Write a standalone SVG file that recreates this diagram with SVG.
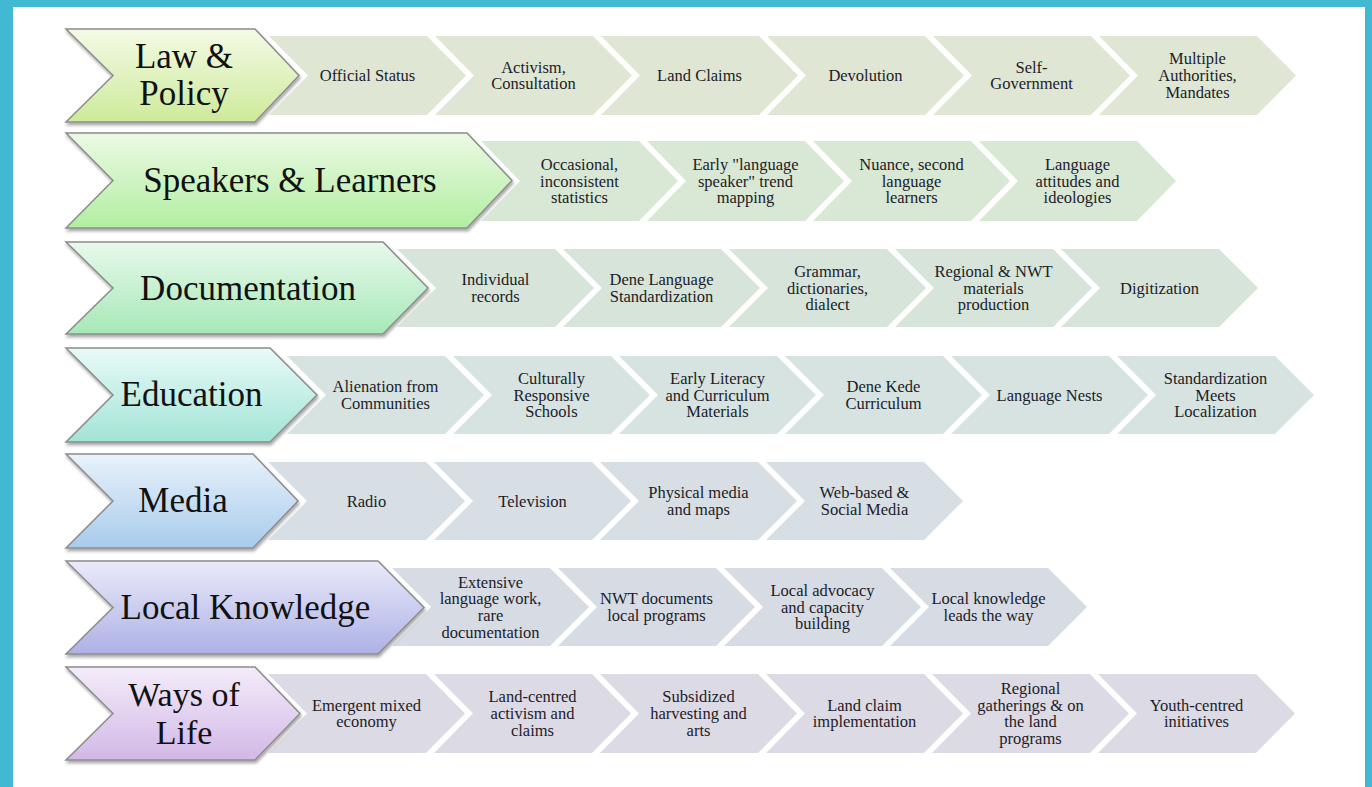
<svg xmlns="http://www.w3.org/2000/svg" width="1372" height="787" viewBox="0 0 1372 787">
<defs>
<style>
.r1{fill:#dfe6d3}.r2{fill:#d9e7d5}.r3{fill:#d6e4da}.r4{fill:#d6e3e1}.r5{fill:#d7dee4}.r6{fill:#d7dbe4}.r7{fill:#dcdae4}
.h{stroke:#8c8c8c;stroke-width:1.5;filter:url(#sh)}
.t{font-family:"Liberation Serif","Times New Roman",serif;font-size:16.5px;fill:#1c1c28;text-anchor:middle}
.ht{font-family:"Liberation Serif","Times New Roman",serif;font-size:35px;fill:#111;text-anchor:middle}
.ht2{font-size:34px}
</style>
<filter id="sh" x="-10%" y="-10%" width="120%" height="130%">
<feDropShadow dx="1" dy="2.5" stdDeviation="1.5" flood-color="#000" flood-opacity="0.35"/>
</filter>
<linearGradient id="g1" x1="0" y1="0" x2="0" y2="1"><stop offset="0" stop-color="#f4fae6"/><stop offset="1" stop-color="#cdea9a"/></linearGradient>
<linearGradient id="g2" x1="0" y1="0" x2="0" y2="1"><stop offset="0" stop-color="#ecf9e4"/><stop offset="1" stop-color="#b2eea2"/></linearGradient>
<linearGradient id="g3" x1="0" y1="0" x2="0" y2="1"><stop offset="0" stop-color="#e8f9ec"/><stop offset="1" stop-color="#a6e8b6"/></linearGradient>
<linearGradient id="g4" x1="0" y1="0" x2="0" y2="1"><stop offset="0" stop-color="#e8faf8"/><stop offset="1" stop-color="#a2e4d6"/></linearGradient>
<linearGradient id="g5" x1="0" y1="0" x2="0" y2="1"><stop offset="0" stop-color="#e8f2fb"/><stop offset="1" stop-color="#a9cbec"/></linearGradient>
<linearGradient id="g6" x1="0" y1="0" x2="0" y2="1"><stop offset="0" stop-color="#eaeaf9"/><stop offset="1" stop-color="#adb1e6"/></linearGradient>
<linearGradient id="g7" x1="0" y1="0" x2="0" y2="1"><stop offset="0" stop-color="#f4ecfa"/><stop offset="1" stop-color="#d2b8e6"/></linearGradient>
</defs>
<rect width="1372" height="787" fill="#ffffff"/>
<g id="frame" fill="#42b9d3">
<rect x="0" y="0" width="13" height="787"/>
<rect x="0" y="0" width="1372" height="7"/>
<rect x="1365" y="0" width="7" height="787"/>
</g>

<!-- Row 1 -->
<g id="row1-steps">
<g id="n1-1"><polygon class="r1" points="269,36 427,36 466,75.5 427,115 269,115 308,75.5"/><text class="t" x="367.5" y="81">Official Status</text></g>
<g id="n1-2"><polygon class="r1" points="435,36 593,36 632,75.5 593,115 435,115 474,75.5"/><text class="t"><tspan x="533.5" y="72.7">Activism,</tspan><tspan x="533.5" y="89.4">Consultation</tspan></text></g>
<g id="n1-3"><polygon class="r1" points="601,36 759,36 798,75.5 759,115 601,115 640,75.5"/><text class="t" x="699.5" y="81">Land Claims</text></g>
<g id="n1-4"><polygon class="r1" points="767,36 925,36 964,75.5 925,115 767,115 806,75.5"/><text class="t" x="865.5" y="81">Devolution</text></g>
<g id="n1-5"><polygon class="r1" points="933,36 1091,36 1130,75.5 1091,115 933,115 972,75.5"/><text class="t"><tspan x="1031.5" y="72.7">Self-</tspan><tspan x="1031.5" y="89.4">Government</tspan></text></g>
<g id="n1-6"><polygon class="r1" points="1099,36 1257,36 1296,75.5 1257,115 1099,115 1138,75.5"/><text class="t"><tspan x="1197.5" y="64.3">Multiple</tspan><tspan x="1197.5" y="81">Authorities,</tspan><tspan x="1197.5" y="97.7">Mandates</tspan></text></g>
</g>
<g id="h1-law-policy"><polygon class="h" fill="url(#g1)" points="66,29 255,29 299,75.5 255,122 66,122 113,75.5"/><text class="ht"><tspan x="184" y="68">Law &amp;</tspan><tspan x="184" y="105">Policy</tspan></text></g>

<!-- Row 2 -->
<g id="row2-steps">
<g id="n2-1"><polygon class="r2" points="481,141 639,141 678,181 639,221 481,221 520,181"/><text class="t"><tspan x="579.5" y="169.8">Occasional,</tspan><tspan x="579.5" y="186.5">inconsistent</tspan><tspan x="579.5" y="203.2">statistics</tspan></text></g>
<g id="n2-2"><polygon class="r2" points="647,141 805,141 844,181 805,221 647,221 686,181"/><text class="t"><tspan x="745.5" y="169.8">Early "language</tspan><tspan x="745.5" y="186.5">speaker" trend</tspan><tspan x="745.5" y="203.2">mapping</tspan></text></g>
<g id="n2-3"><polygon class="r2" points="813,141 971,141 1010,181 971,221 813,221 852,181"/><text class="t"><tspan x="911.5" y="169.8">Nuance, second</tspan><tspan x="911.5" y="186.5">language</tspan><tspan x="911.5" y="203.2">learners</tspan></text></g>
<g id="n2-4"><polygon class="r2" points="979,141 1137,141 1176,181 1137,221 979,221 1018,181"/><text class="t"><tspan x="1077.5" y="169.8">Language</tspan><tspan x="1077.5" y="186.5">attitudes and</tspan><tspan x="1077.5" y="203.2">ideologies</tspan></text></g>
</g>
<g id="h2-speakers-learners"><polygon class="h" fill="url(#g2)" points="66,133 467,133 512,180.5 467,228 66,228 113,180.5"/><text class="ht" x="290" y="192">Speakers &amp; Learners</text></g>

<!-- Row 3 -->
<g id="row3-steps">
<g id="n3-1"><polygon class="r3" points="397,249 555,249 594,288 555,327 397,327 436,288"/><text class="t"><tspan x="495.5" y="285.2">Individual</tspan><tspan x="495.5" y="301.9">records</tspan></text></g>
<g id="n3-2"><polygon class="r3" points="563,249 721,249 760,288 721,327 563,327 602,288"/><text class="t"><tspan x="661.5" y="285.2">Dene Language</tspan><tspan x="661.5" y="301.9">Standardization</tspan></text></g>
<g id="n3-3"><polygon class="r3" points="729,249 887,249 926,288 887,327 729,327 768,288"/><text class="t"><tspan x="827.5" y="276.8">Grammar,</tspan><tspan x="827.5" y="293.5">dictionaries,</tspan><tspan x="827.5" y="310.2">dialect</tspan></text></g>
<g id="n3-4"><polygon class="r3" points="895,249 1053,249 1092,288 1053,327 895,327 934,288"/><text class="t"><tspan x="993.5" y="276.8">Regional &amp; NWT</tspan><tspan x="993.5" y="293.5">materials</tspan><tspan x="993.5" y="310.2">production</tspan></text></g>
<g id="n3-5"><polygon class="r3" points="1061,249 1219,249 1258,288 1219,327 1061,327 1100,288"/><text class="t" x="1159.5" y="293.5">Digitization</text></g>
</g>
<g id="h3-documentation"><polygon class="h" fill="url(#g3)" points="66,242 383,242 428,288 383,334 66,334 113,288"/><text class="ht" x="248" y="299.5">Documentation</text></g>

<!-- Row 4 -->
<g id="row4-steps">
<g id="n4-1"><polygon class="r4" points="287,356 445,356 484,395 445,434 287,434 326,395"/><text class="t"><tspan x="385.5" y="392.2">Alienation from</tspan><tspan x="385.5" y="408.9">Communities</tspan></text></g>
<g id="n4-2"><polygon class="r4" points="453,356 611,356 650,395 611,434 453,434 492,395"/><text class="t"><tspan x="551.5" y="383.8">Culturally</tspan><tspan x="551.5" y="400.5">Responsive</tspan><tspan x="551.5" y="417.2">Schools</tspan></text></g>
<g id="n4-3"><polygon class="r4" points="619,356 777,356 816,395 777,434 619,434 658,395"/><text class="t"><tspan x="717.5" y="383.8">Early Literacy</tspan><tspan x="717.5" y="400.5">and Curriculum</tspan><tspan x="717.5" y="417.2">Materials</tspan></text></g>
<g id="n4-4"><polygon class="r4" points="785,356 943,356 982,395 943,434 785,434 824,395"/><text class="t"><tspan x="883.5" y="392.2">Dene Kede</tspan><tspan x="883.5" y="408.9">Curriculum</tspan></text></g>
<g id="n4-5"><polygon class="r4" points="951,356 1109,356 1148,395 1109,434 951,434 990,395"/><text class="t" x="1049.5" y="400.5">Language Nests</text></g>
<g id="n4-6"><polygon class="r4" points="1117,356 1275,356 1314,395 1275,434 1117,434 1156,395"/><text class="t"><tspan x="1215.5" y="383.8">Standardization</tspan><tspan x="1215.5" y="400.5">Meets</tspan><tspan x="1215.5" y="417.2">Localization</tspan></text></g>
</g>
<g id="h4-education"><polygon class="h" fill="url(#g4)" points="66,348 270,348 317,395 270,442 66,442 113,395"/><text class="ht" x="191.5" y="406">Education</text></g>

<!-- Row 5 -->
<g id="row5-steps">
<g id="n5-1"><polygon class="r5" points="268,462 426,462 465,501 426,540 268,540 307,501"/><text class="t" x="366.5" y="506.5">Radio</text></g>
<g id="n5-2"><polygon class="r5" points="434,462 592,462 631,501 592,540 434,540 473,501"/><text class="t" x="532.5" y="506.5">Television</text></g>
<g id="n5-3"><polygon class="r5" points="600,462 758,462 797,501 758,540 600,540 639,501"/><text class="t"><tspan x="698.5" y="498.2">Physical media</tspan><tspan x="698.5" y="514.9">and maps</tspan></text></g>
<g id="n5-4"><polygon class="r5" points="766,462 924,462 963,501 924,540 766,540 805,501"/><text class="t"><tspan x="864.5" y="498.2">Web-based &amp;</tspan><tspan x="864.5" y="514.9">Social Media</tspan></text></g>
</g>
<g id="h5-media"><polygon class="h" fill="url(#g5)" points="66,454 253,454 298,501 253,548 66,548 113,501"/><text class="ht" x="183" y="512">Media</text></g>

<!-- Row 6 -->
<g id="row6-steps">
<g id="n6-1"><polygon class="r6" points="392,568 550,568 589,607 550,646 392,646 431,607"/><text class="t"><tspan x="490.5" y="587.5">Extensive</tspan><tspan x="490.5" y="604.2">language work,</tspan><tspan x="490.5" y="620.9">rare</tspan><tspan x="490.5" y="637.6">documentation</tspan></text></g>
<g id="n6-2"><polygon class="r6" points="558,568 716,568 755,607 716,646 558,646 597,607"/><text class="t"><tspan x="656.5" y="604.2">NWT documents</tspan><tspan x="656.5" y="620.9">local programs</tspan></text></g>
<g id="n6-3"><polygon class="r6" points="724,568 882,568 921,607 882,646 724,646 763,607"/><text class="t"><tspan x="822.5" y="595.8">Local advocacy</tspan><tspan x="822.5" y="612.5">and capacity</tspan><tspan x="822.5" y="629.2">building</tspan></text></g>
<g id="n6-4"><polygon class="r6" points="890,568 1048,568 1087,607 1048,646 890,646 929,607"/><text class="t"><tspan x="988.5" y="604.2">Local knowledge</tspan><tspan x="988.5" y="620.9">leads the way</tspan></text></g>
</g>
<g id="h6-local-knowledge"><polygon class="h" fill="url(#g6)" points="66,561 378,561 424,607.5 378,654 66,654 113,607.5"/><text class="ht" x="245.5" y="619">Local Knowledge</text></g>

<!-- Row 7 -->
<g id="row7-steps">
<g id="n7-1"><polygon class="r7" points="268,674 426,674 465,713.5 426,753 268,753 307,713.5"/><text class="t"><tspan x="366.5" y="710.7">Emergent mixed</tspan><tspan x="366.5" y="727.4">economy</tspan></text></g>
<g id="n7-2"><polygon class="r7" points="434,674 592,674 631,713.5 592,753 434,753 473,713.5"/><text class="t"><tspan x="532.5" y="702.3">Land-centred</tspan><tspan x="532.5" y="719">activism and</tspan><tspan x="532.5" y="735.7">claims</tspan></text></g>
<g id="n7-3"><polygon class="r7" points="600,674 758,674 797,713.5 758,753 600,753 639,713.5"/><text class="t"><tspan x="698.5" y="702.3">Subsidized</tspan><tspan x="698.5" y="719">harvesting and</tspan><tspan x="698.5" y="735.7">arts</tspan></text></g>
<g id="n7-4"><polygon class="r7" points="766,674 924,674 963,713.5 924,753 766,753 805,713.5"/><text class="t"><tspan x="864.5" y="710.7">Land claim</tspan><tspan x="864.5" y="727.4">implementation</tspan></text></g>
<g id="n7-5"><polygon class="r7" points="932,674 1090,674 1129,713.5 1090,753 932,753 971,713.5"/><text class="t"><tspan x="1030.5" y="694">Regional</tspan><tspan x="1030.5" y="710.7">gatherings &amp; on</tspan><tspan x="1030.5" y="727.4">the land</tspan><tspan x="1030.5" y="744.1">programs</tspan></text></g>
<g id="n7-6"><polygon class="r7" points="1098,674 1256,674 1295,713.5 1256,753 1098,753 1137,713.5"/><text class="t"><tspan x="1196.5" y="710.7">Youth-centred</tspan><tspan x="1196.5" y="727.4">initiatives</tspan></text></g>
</g>
<g id="h7-ways-of-life"><polygon class="h" fill="url(#g7)" points="66,667 255,667 300,713.5 255,760 66,760 113,713.5"/><text class="ht ht2"><tspan x="184" y="705.5">Ways of</tspan><tspan x="184" y="743.5">Life</tspan></text></g>
</svg>
